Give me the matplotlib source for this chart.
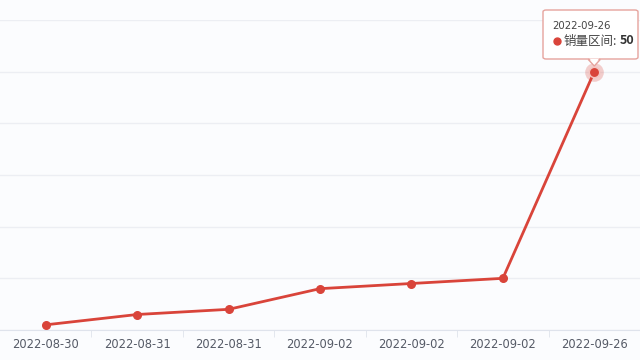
import numpy as np
import matplotlib.pyplot as plt
from matplotlib.patches import FancyBboxPatch, Polygon
from matplotlib.lines import Line2D

plt.rcParams['font.family'] = ['Noto Sans CJK SC', 'DejaVu Sans']

# data
dates = ['2022-08-30', '2022-08-31', '2022-08-31', '2022-09-02',
         '2022-09-02', '2022-09-02', '2022-09-26']
sales = [1, 3, 4, 8, 9, 10, 50]
series_name = '销量区间'

red = '#d9443a'
bg = '#fbfcfe'

fig = plt.figure(figsize=(6.4, 3.6), dpi=100)
fig.patch.set_facecolor(bg)
ax = fig.add_axes([0, 30 / 360, 1, 310 / 360])
ax.set_facecolor(bg)

x = np.arange(len(dates))
ax.plot(x, sales, color=red, lw=2, zorder=3)
ax.scatter(x[:-1], sales[:-1], s=30, color=red, zorder=4)
# highlighted last point
ax.scatter(x[-1:], sales[-1:], s=180, color=red, alpha=0.25, lw=0, zorder=4)
ax.scatter(x[-1:], sales[-1:], s=55, color=red, edgecolors='#f4c5c1', lw=1, zorder=5)

ax.set_xlim(-0.5, len(dates) - 0.5)
ax.set_ylim(0, 60)
ax.set_yticks(np.arange(0, 61, 10))
ax.yaxis.grid(True, color='#eceef3', lw=1)
ax.set_axisbelow(True)
ax.tick_params(axis='y', left=False, labelleft=False)

ax.set_xticks(x)
ax.set_xticklabels(dates, family='DejaVu Sans')
ax.set_xticks(np.arange(0.5, len(dates) - 0.5), minor=True)
ax.tick_params(axis='x', which='major', length=0, pad=6, labelsize=8.3, labelcolor='#555a66')
ax.tick_params(axis='x', which='minor', length=5, color='#dfe3ec')

for s in ['top', 'right', 'left']:
    ax.spines[s].set_visible(False)
ax.spines['bottom'].set_color('#dfe3ec')

# tooltip
px, py = ax.transData.transform((x[-1], sales[-1]))
inv = fig.transFigure.inverted()
def fc(xp, yp):
    return inv.transform((xp, yp))

box = FancyBboxPatch(fc(543, 360 - 59), 95 / 640, 49 / 360,
                     boxstyle='round,pad=0,rounding_size=0.005',
                     transform=fig.transFigure, facecolor='white',
                     edgecolor='#e6a39d', lw=1, zorder=10)
fig.patches.append(box)
tri = Polygon([fc(px - 6, 360 - 59.5), fc(px + 6, 360 - 59.5), fc(px, 360 - 66)],
              closed=True, transform=fig.transFigure, facecolor='white',
              edgecolor='#e6a39d', lw=1, zorder=11)
fig.patches.append(tri)
fig.patches.append(Polygon([fc(px - 5, 360 - 58.5), fc(px + 5, 360 - 58.5), fc(px, 360 - 64)],
                           closed=True, transform=fig.transFigure, facecolor='white',
                           lw=0, zorder=12))

fig.text(*fc(552, 360 - 26), dates[-1], family='DejaVu Sans', fontsize=7.3,
         color='#444', va='center', zorder=13)
fig.add_artist(Line2D(*zip(fc(557, 360 - 41)), marker='o', ms=5, color=red,
                      transform=fig.transFigure, zorder=13))
fig.text(*fc(564, 360 - 41), series_name + ':', fontsize=9, color='#444',
         va='center', zorder=13)
fig.text(*fc(634, 360 - 41), str(sales[-1]), fontsize=9, color='#333', va='center',
         ha='right', fontweight='bold', zorder=13)

fig.savefig('out.png', dpi=100, facecolor=bg)
